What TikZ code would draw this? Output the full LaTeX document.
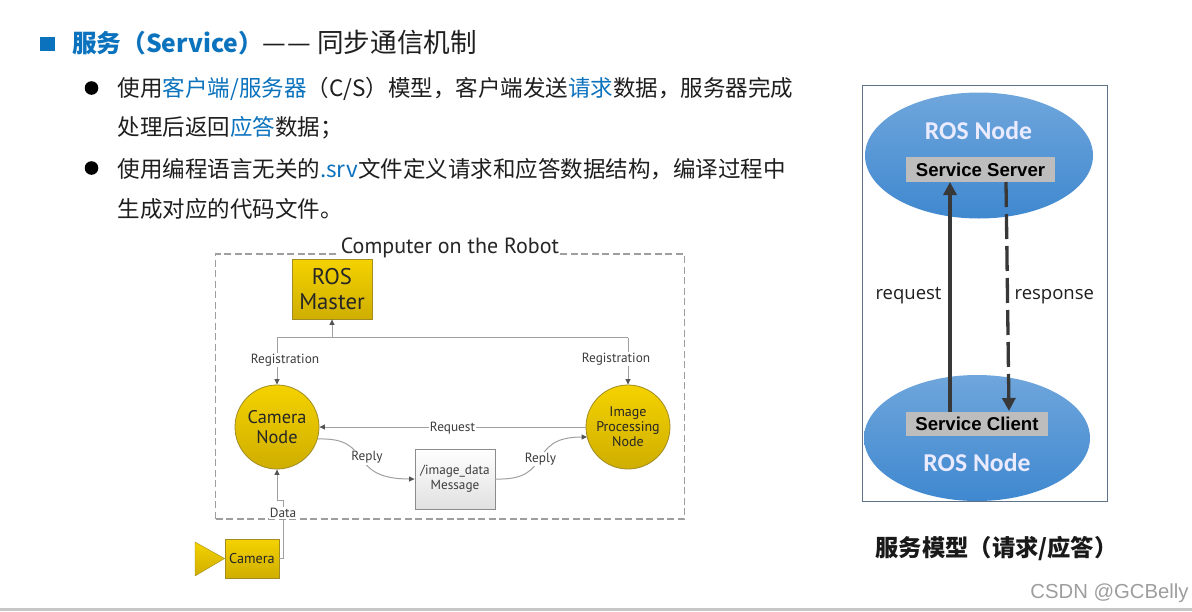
\documentclass[tikz,border=0pt]{standalone}
\usepackage{fontspec}
\setmainfont{Noto Sans CJK SC}
\newfontfamily\cjk{Noto Sans CJK SC}
\newfontfamily\din{PT Sans}
\newfontfamily\arl{Liberation Sans}
\newfontfamily\carl{Carlito}
\newfontfamily\opn{Open Sans}
\usetikzlibrary{arrows.meta,calc,shapes.geometric}
\definecolor{hl}{HTML}{0B72BE}
\definecolor{ink}{HTML}{1E1E1E}
\definecolor{ygtop}{HTML}{F4D200}
\definecolor{ygbot}{HTML}{CFAE00}
\definecolor{ygline}{HTML}{A08C20}
\definecolor{wire}{HTML}{A0A0A0}
\definecolor{wiretip}{HTML}{555555}
\definecolor{lbl}{HTML}{3C3C3C}
\definecolor{blobtop}{HTML}{6FA6DC}
\definecolor{blobbot}{HTML}{3F88CF}
\definecolor{panelc}{HTML}{5F7388}
\newcommand{\hlc}[1]{\textcolor{hl}{#1}}
\tikzset{
  txt/.style={anchor=base west,inner sep=0pt,outer sep=0pt,font=\fontsize{22.5}{26}\selectfont\cjk,text=ink},
  yg/.style={draw=ygline,line width=.8pt,top color=ygtop,bottom color=ygbot,inner sep=0pt,align=center,font=\din,text=black!85},
  ygbox/.style={yg,rectangle,minimum width=#1},
  ygcirc/.style={yg,circle,minimum size=84pt},
  wirel/.style={draw=wire,line width=1pt,-{Triangle[length=5.5pt,width=5pt,color=wiretip]}},
  wiren/.style={draw=wire,line width=1pt},
  lab/.style={inner sep=1pt,fill=white,font=\din\fontsize{13.3}{15}\selectfont,text=lbl},
  blob/.style={ellipse,inner sep=0pt,top color=blobtop,bottom color=blobbot},
  grayb/.style={rectangle,fill=black!26,inner sep=0pt,font=\arl\bfseries\fontsize{18.6}{20}\selectfont,text=black},
  rosn/.style={inner sep=0pt,font=\carl\bfseries\fontsize{25.7}{28}\selectfont,text=white!92!blue},
  dark/.style={draw=black!78,line width=3.3pt},
  modeltxt/.style={anchor=base,inner sep=0pt,font=\opn\fontsize{18.5}{22}\selectfont,text=ink}
}
\begin{document}
\begin{tikzpicture}[x=1pt,y=-1pt]
\useasboundingbox (0,0) rectangle (1192,611);
\fill[white] (0,0) rectangle (1192,611);
\fill[black!22] (0,608) rectangle (1192,611);
% title block
\fill[hl] (40,37) rectangle (55,51);
\node[txt,font=\fontsize{24.7}{30}\selectfont\cjk] (title) at (72,52) {\textcolor{hl}{\bfseries 服务（Service）}{\fontsize{26.5}{30}\selectfont —\kern1pt—}\kern6pt{\fontsize{26.6}{30}\selectfont 同步通信机制}};
\fill[black] (91.5,88) circle (6.8);
\node[txt] (l1) at (117.7,96) {使用\hlc{客户端/服务器}（C/S）模型，客户端发送\hlc{请求}数据，服务器完成};
\node[txt] (l2) at (117.7,135.5) {处理后返回\hlc{应答}数据；};
\fill[black] (91.5,168) circle (6.8);
\node[txt] (l3) at (117.7,177) {使用编程语言无关的\hlc{.srv}文件定义请求和应答数据结构，编译过程中};
\node[txt] (l4) at (117.7,217) {生成对应的代码文件。};
% left diagram
\node[draw=black!38,dash pattern=on 7pt off 3.5pt,line width=1.1pt,minimum width=468.5pt,minimum height=265pt,inner sep=0pt] (frame) at (450,386.5) {};
\node[inner sep=1pt,fill=white,font=\din\fontsize{22}{26}\selectfont,text=black!85] (comp) at (450,248) {Computer on the Robot};
\node[ygbox=80pt,minimum height=60pt,font=\din\fontsize{22.7}{25}\selectfont] (master) at (332,289) {ROS\\Master};
\node[ygcirc,font=\din\fontsize{18.3}{20}\selectfont] (cam) at (277,427) {Camera\\Node};
\node[ygcirc,font=\din\fontsize{14}{15}\selectfont] (img) at (628,427) {Image\\Processing\\Node};
\node[draw=black!45,line width=.8pt,top color=white,bottom color=black!12,minimum width=80pt,minimum height=60pt,inner sep=0pt,align=center,font=\din\fontsize{13.2}{15}\selectfont,text=lbl] (msg) at (455,479) {/image\_data\\Message};
\node[ygbox=54pt,minimum height=39pt,font=\din\fontsize{14.2}{15}\selectfont] (cambox) at (252,558.5) {Camera};
\coordinate (tA) at (195,542);
\coordinate (tC) at (195,576);
\path[top color=ygtop,bottom color=ygbot,draw=ygline,line width=.4pt] (tA) -- (cambox.west) -- (tC) -- cycle;
\coordinate (jL) at ($(cam.north)+(0,-47)$);
\coordinate (jR) at ($(img.north)+(0,-47)$);
\coordinate (jM) at (master.south |- jL);
\draw[wiren] (jM) -- (jL);
\draw[wiren] (jM) -- (jR);
\draw[wirel] (jM) -- (master.south);
\draw[wirel] (jL) -- (cam.north);
\draw[wirel] (jR) -- (img.north);
\node[lab] (rg1) at (285,360) {Registration};
\node[lab] (rg2) at (616,359) {Registration};
\draw[wirel] (img.west) -- (cam.east);
\node[lab] (req) at (452.5,428) {Request};
\coordinate (rS) at (318,439);
\draw[wirel] (rS) .. controls (375,437) and (345,479) .. (msg.west);
\node[lab] (rep1) at (367,457.5) {Reply};
\coordinate (rE) at (587,437);
\draw[wirel] (msg.east) .. controls (555,481) and (525,437) .. (rE);
\node[lab] (rep2) at (540.5,459) {Reply};
\coordinate (d1) at (283,500);
\coordinate (d2) at (277,500);
\draw[wirel] (cambox.east) -- (d1 |- cambox.east) -- (d1) -- (d2) -- (cam.south);
\node[lab] (data) at (283,513) {Data};
% right diagram
\node[draw=panelc,line width=.9pt,minimum width=245pt,minimum height=416pt,inner sep=0pt] (panel) at (984.5,293) {};
\node[blob,minimum width=228pt,minimum height=126pt] (top) at (979,155.5) {};
\node[blob,minimum width=226pt,minimum height=126pt] (bot) at (977,438) {};
\node[rosn] (tn) at (978.5,131) {ROS Node};
\node[rosn] (bn) at (977,463) {ROS Node};
\node[grayb,minimum width=149pt,minimum height=25pt] (srv) at (980.5,169.5) {Service Server};
\node[grayb,minimum width=142pt,minimum height=24pt] (cli) at (977,423.5) {Service Client};
\coordinate (reqa) at (950,412);
\coordinate (reqb) at (950,182);
\draw[dark,-{Triangle[length=13pt,width=13pt]}] (reqa) -- (reqb);
\coordinate (resa) at (1006,182);
\coordinate (resb) at (1009,411);
\draw[dark,dash pattern=on 25pt off 7pt,-{Triangle[length=13pt,width=13pt]}] (resa) -- (resb);
\node[modeltxt] (rq) at (908.5,299) {request};
\node[modeltxt] (rs) at (1054.3,299) {response};
\node[inner sep=0pt,font=\fontsize{23.3}{26}\selectfont\cjk\bfseries,text=black!90] (cap) at (996.5,548) {服务模型（请求/应答）};
\node[inner sep=0pt,font=\arl\fontsize{20.3}{22}\selectfont,text=black!38] (wm) at (1109.5,593) {CSDN @GCBelly};
\end{tikzpicture}
\end{document}
